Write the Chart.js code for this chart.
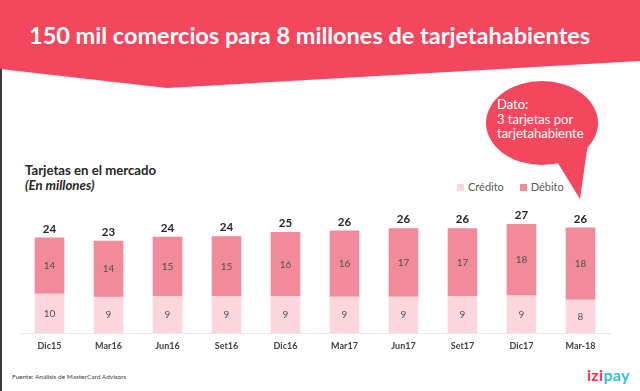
<!DOCTYPE html>
<html lang="es">
<head>
<meta charset="UTF-8">
<title>Tarjetas en el mercado</title>
<script src="https://cdn.jsdelivr.net/npm/chart.js"></script>
<style>
  body { margin: 0; background: #fff; font-family: Lato, "Open Sans", sans-serif; }
  #slide { position: relative; width: 640px; height: 391px; overflow: hidden; background: #fff; }
  #banner { position: absolute; left: 0; top: 0; }
  #edge { position: absolute; left: 0; top: 69px; width: 2px; height: 322px; background: #3c3c3c; }
  #headline { position: absolute; left: 29px; top: 21px; color: #fff; font-weight: bold; font-size: 23.5px; white-space: nowrap; }
  #chartTitle { position: absolute; left: 25px; top: 163px; color: #262626; font-weight: bold; font-size: 13.2px; line-height: 15px; }
  #chartTitle i { font-weight: bold; }
  #bubbleText { position: absolute; left: 497px; top: 97px; color: #fff; font-size: 13px; line-height: 14.5px; }
  #legend { position: absolute; left: 457px; top: 180px; font-size: 11px; color: #595959; white-space: nowrap; }
  #legend span.box { display: inline-block; width: 7px; height: 7px; margin-right: 4px; vertical-align: 0; }
  #legend span.item { margin-right: 13px; }
  #chartBox { position: absolute; left: 0; top: 200px; }
  #source { position: absolute; left: 12px; top: 373px; font-size: 6.5px; color: #404040; }
  #logo { position: absolute; left: 587px; top: 365px; font-size: 16px; font-weight: bold; letter-spacing: 0.3px; }
</style>
</head>
<body>
<div id="slide">
  <svg id="banner" width="640" height="210">
    <polygon points="0,0 640,0 640,61 167,88 0,69" fill="#f4475e"/>
    <ellipse cx="542" cy="123" rx="56" ry="42" fill="#f4475e"/>
    <polygon points="556,160 588,143 580,199" fill="#f4475e"/>
  </svg>
  <div id="edge"></div>
  <div id="headline">150 mil comercios para 8 millones de tarjetahabientes</div>
  <div id="bubbleText">Dato:<br>3 tarjetas por<br>tarjetahabiente</div>
  <div id="chartTitle">Tarjetas en el mercado<br><i>(En millones)</i></div>
  <div id="legend">
    <span class="item"><span class="box" style="background:#fcd6dc"></span>Crédito</span>
    <span><span class="box" style="background:#f28b99"></span>Débito</span>
  </div>
  <div id="chartBox"><canvas id="cardChart" width="640" height="162"></canvas></div>
  <div id="source">Fuente: Análisis de MasterCard Advisors</div>
  <div id="logo"><span style="color:#e8365a">izi</span><span style="color:#33c2c8">pay</span></div>
</div>

<script>
  // Trimestres
  const periodos = ['Dic15', 'Mar16', 'Jun16', 'Set16', 'Dic16', 'Mar17', 'Jun17', 'Set17', 'Dic17', 'Mar-18'];

  // Millones de tarjetas
  const credito = [9.8, 9.0, 9.2, 9.2, 9.2, 9.1, 9.1, 9.2, 9.4, 8.3];
  const debito = [14.0, 14.0, 14.8, 14.9, 16.0, 16.45, 17.0, 16.9, 17.8, 18.0];

  // etiquetas de valor dentro y encima de las barras
  const barLabels = {
    id: 'barLabels',
    afterDatasetsDraw(chart) {
      const ctx = chart.ctx;
      ctx.save();
      ctx.textAlign = 'center';
      ctx.textBaseline = 'middle';
      ctx.font = '10px Lato';
      ctx.fillStyle = '#505050';
      chart.data.datasets.forEach((ds, i) => {
        chart.getDatasetMeta(i).data.forEach((bar, j) => {
          ctx.fillText(Math.round(ds.data[j]), bar.x, (bar.y + bar.base) / 2);
        });
      });
      const top = chart.getDatasetMeta(chart.data.datasets.length - 1);
      ctx.font = 'bold 11.5px Lato';
      ctx.fillStyle = '#262626';
      top.data.forEach((bar, j) => {
        ctx.fillText(Math.round(credito[j] + debito[j]), bar.x, bar.y - 9);
      });
      ctx.restore();
    }
  };

  new Chart(document.getElementById('cardChart'), {
    type: 'bar',
    data: {
      labels: periodos,
      datasets: [
        { label: 'Crédito', data: credito, backgroundColor: '#fcd6dc', barThickness: 29 },
        { label: 'Débito', data: debito, backgroundColor: '#f28b99', barThickness: 29 }
      ]
    },
    options: {
      responsive: false,
      animation: false,
      layout: { padding: { top: 13, left: 20, right: 30, bottom: 4 } },
      plugins: { legend: { display: false }, tooltip: { enabled: false } },
      scales: {
        x: {
          stacked: true,
          grid: { display: false, drawTicks: false },
          border: { color: '#e8e8e8' },
          ticks: { padding: 7, color: '#404040', font: { family: 'Lato', size: 9, weight: 'bold' } }
        },
        y: { stacked: true, display: false, min: 0, max: 30 }
      }
    },
    plugins: [barLabels]
  });
</script>
</body>
</html>
